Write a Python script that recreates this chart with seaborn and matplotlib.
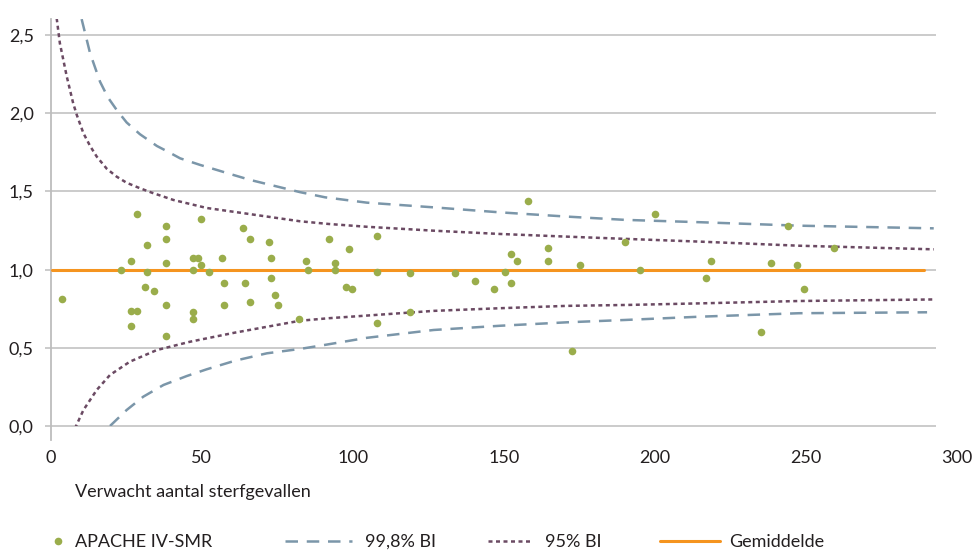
import matplotlib
matplotlib.use("Agg")
import matplotlib.pyplot as plt
from matplotlib.lines import Line2D
from matplotlib.ticker import FuncFormatter, FixedLocator
import seaborn as sns
import pandas as pd

# ---------------- data ----------------
smr_x = [3.7, 23.2, 26.7, 26.7, 28.5, 26.7, 28.5, 32.1, 32.1, 31.2, 34.2, 38.1, 38.1, 38.1, 38.1, 38.1,
         47.3, 48.8, 47.3, 49.7, 49.7, 52.3, 47.3, 47.3, 56.6, 57.3, 57.3,
         63.6, 66.0, 64.4, 66.0, 72.3, 73.0, 73.0, 74.3, 75.4, 82.2, 84.4, 85.2, 92.1, 94.2, 94.2,
         98.8, 97.9, 99.8, 107.9, 107.9, 107.9, 119.1, 119.1,
         134.0, 140.5, 146.8, 150.4, 152.5, 154.4, 152.5, 157.9, 164.8, 164.8, 175.1, 172.7,
         190.1, 195.1, 199.9, 218.5, 216.8, 235.3, 238.3, 244.2, 247.0, 249.3, 259.4]
smr_y = [0.813, 1.000, 1.057, 0.736, 0.736, 0.639, 1.354, 1.160, 0.987, 0.891, 0.862, 1.279, 1.194, 1.043, 0.772, 0.579,
         1.075, 1.075, 1.000, 1.030, 1.322, 0.987, 0.728, 0.687, 1.075, 0.917, 0.772,
         1.266, 1.194, 0.917, 0.796, 1.177, 1.075, 0.949, 0.840, 0.772, 0.687, 1.057, 1.000, 1.194, 1.043, 1.000,
         1.134, 0.891, 0.877, 1.215, 0.987, 0.658, 0.977, 0.728,
         0.977, 0.928, 0.879, 0.987, 1.100, 1.057, 0.917, 1.437, 1.137, 1.057, 1.030, 0.479,
         1.177, 1.000, 1.354, 1.057, 0.949, 0.602, 1.043, 1.281, 1.032, 0.879, 1.137]

u998_x = [10.3, 13.1, 16.4, 19.0, 21.9, 25.2, 29.6, 35.2, 38.5, 42.9, 49.5, 60.5, 66.1, 82.6, 90.9, 104.7,
          126.8, 148.8, 170.9, 190.2, 215.1, 247.7, 292.3]
u998_y = [2.60, 2.382, 2.20, 2.10, 2.02, 1.94, 1.865, 1.79, 1.757, 1.711, 1.669, 1.605, 1.573, 1.495, 1.462, 1.428,
          1.398, 1.366, 1.339, 1.318, 1.303, 1.281, 1.264]

u95_x = [2.05, 3.1, 5.4, 7.5, 8.7, 10.9, 13.1, 15.3, 18.6, 21.9, 25.2, 29.6, 33.5, 40.7, 51.7, 60.5, 82.6,
         92.0, 104.7, 126.8, 148.8, 170.9, 191.3, 215.1, 247.7, 292.3]
u95_y = [2.605, 2.446, 2.232, 2.063, 1.988, 1.871, 1.790, 1.722, 1.645, 1.594, 1.555, 1.520, 1.492, 1.445, 1.394,
         1.370, 1.309, 1.292, 1.274, 1.249, 1.228, 1.211, 1.196, 1.179, 1.153, 1.130]

l95_x = [8.1, 10.9, 15.3, 19.7, 26.3, 35.2, 46.2, 61.0, 82.6, 92.0, 104.7, 126.8, 148.8, 170.9, 191.3,
         215.1, 247.7, 292.3]
l95_y = [-0.013, 0.104, 0.232, 0.328, 0.413, 0.487, 0.540, 0.598, 0.674, 0.690, 0.707, 0.737, 0.754, 0.769, 0.775,
         0.785, 0.800, 0.810]

l998_x = [19.7, 25.2, 30.7, 37.4, 45.1, 51.7, 61.1, 71.6, 82.6, 90.9, 104.7, 126.8, 148.8, 170.9, 190.2,
          215.1, 247.7, 290.1]
l998_y = [0.002, 0.104, 0.189, 0.264, 0.321, 0.364, 0.419, 0.466, 0.494, 0.520, 0.565, 0.615, 0.642, 0.664, 0.679,
          0.700, 0.722, 0.728]

mean_x = [0.5, 289.0]
mean_y = [1.0, 1.0]

x_ticks = [0, 50, 100, 150, 200, 250, 300]
y_ticks = [0.0, 0.5, 1.0, 1.5, 2.0, 2.5]

labels = ["APACHE IV-SMR", "99,8% BI", "95% BI", "Gemiddelde"]
x_label = "Verwacht aantal sterfgevallen"

# ---------------- style ----------------
sns.set_style("white")
plt.rcParams["font.family"] = ["Lato", "DejaVu Sans"]

GREEN = "#9aad4b"
BLUE = "#7b96a9"
PURPLE = "#6b4a63"
ORANGE = "#f5941f"
GRID = "#bdbdbd"
TEXT = "#231f20"
FS = 13

fig = plt.figure(figsize=(9.8, 5.5), dpi=100)
ax = fig.add_axes([50.5 / 980, 1 - 426.3 / 550, (957 - 50.5) / 980, (426.3 - 19.1) / 550])
ax.set_xlim(0, 300)
ax.set_ylim(0, 2.6)

# gridlines (end before the right edge as in the reference)
ax.hlines(y_ticks, 0, 293, colors=GRID, linewidth=1.1, zorder=1, clip_on=False)

dash_style = (0, (5, 3.5))
dot_style = (0, (1.6, 1.4))

sns.lineplot(x=u998_x, y=u998_y, ax=ax, color=BLUE, linewidth=1.8, linestyle=dash_style, zorder=3)
sns.lineplot(x=l998_x, y=l998_y, ax=ax, color=BLUE, linewidth=1.8, linestyle=dash_style, zorder=3)
sns.lineplot(x=u95_x, y=u95_y, ax=ax, color=PURPLE, linewidth=1.8, linestyle=dot_style, zorder=3)
sns.lineplot(x=l95_x, y=l95_y, ax=ax, color=PURPLE, linewidth=1.8, linestyle=dot_style, zorder=3)
sns.lineplot(x=mean_x, y=mean_y, ax=ax, color=ORANGE, linewidth=2.2, zorder=4)
sns.scatterplot(x=smr_x, y=smr_y, ax=ax, color=GREEN, s=30, linewidth=0, zorder=5)

for s in ["top", "right", "bottom"]:
    ax.spines[s].set_visible(False)
ax.spines["left"].set_color(GRID)
ax.spines["left"].set_linewidth(1.3)
ax.spines["left"].set_bounds(-0.09, 2.6)

ax.xaxis.set_major_locator(FixedLocator(x_ticks))
ax.yaxis.set_major_locator(FixedLocator(y_ticks))
ax.xaxis.set_major_formatter(FuncFormatter(lambda v, p: f"{int(v)}"))
ax.yaxis.set_major_formatter(FuncFormatter(lambda v, p: f"{v:.1f}".replace(".", ",")))
ax.tick_params(axis="x", length=0, pad=17, labelsize=FS, labelcolor=TEXT)
ax.tick_params(axis="y", length=4, width=1.1, color=GRID, pad=8, labelsize=FS, labelcolor=TEXT, left=True)

ax.set_xlabel(x_label, fontsize=FS, color=TEXT, ha="left", va="center")
ax.xaxis.set_label_coords((75 - 50.5) / (957 - 50.5), (426.3 - 492) / (426.3 - 19.1))
ax.set_ylabel("")

# legend: four separate entries placed like the reference
ly = 1 - 542 / 550
h_pts = Line2D([], [], marker="o", color=GREEN, linestyle="none", markersize=5.5, markeredgewidth=0)
h_998 = Line2D([], [], color=BLUE, linewidth=1.8, linestyle=dash_style)
h_95 = Line2D([], [], color=PURPLE, linewidth=1.8, linestyle=dot_style)
h_mean = Line2D([], [], color=ORANGE, linewidth=2.2)
specs = [(h_pts, labels[0], 51, 0.8, 0.55),
         (h_998, labels[1], 285, 3.7, 0.72),
         (h_95, labels[2], 488, 2.3, 0.83),
         (h_mean, labels[3], 660, 3.3, 0.55)]
for h, lab, xpx, hl, tp in specs:
    leg = fig.legend(handles=[h], labels=[lab], loc="center left", bbox_to_anchor=(xpx / 980, ly),
                     frameon=False, fontsize=FS, handlelength=hl, handletextpad=tp,
                     borderpad=0, borderaxespad=0)
    for t in leg.get_texts():
        t.set_color(TEXT)

fig.savefig("out.png", dpi=100)
